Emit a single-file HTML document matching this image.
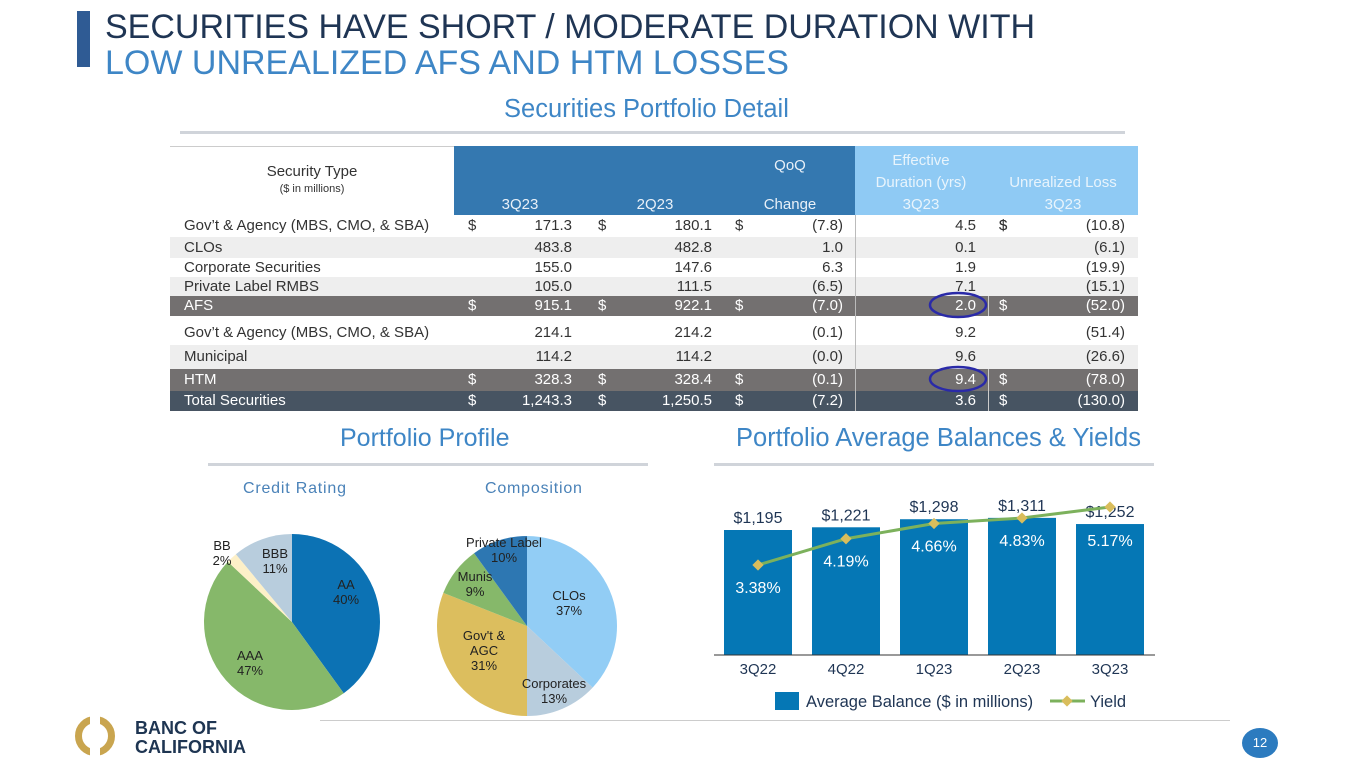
<!DOCTYPE html>
<html><head><meta charset="utf-8">
<style>
body{margin:0;width:1365px;height:768px;background:#fff;position:relative;overflow:hidden;font-family:"Liberation Sans",sans-serif;}
.a{position:absolute;white-space:nowrap;}
.r{text-align:right;}
.c{text-align:center;}
.row{position:absolute;left:170px;width:968px;font-size:15px;color:#333;}
.row .a{top:0;}
.dk{color:#fff;}
</style></head><body>
<div class="a" style="left:77px;top:11px;width:13px;height:56px;background:#2f5b94"></div>
<div class="a" style="left:105px;top:8px;font-size:34px;color:#1f3554">SECURITIES HAVE SHORT / MODERATE DURATION WITH</div>
<div class="a" style="left:105px;top:44px;font-size:34px;color:#3e86c6">LOW UNREALIZED AFS AND HTM LOSSES</div>
<div class="a" style="left:504px;top:95px;font-size:25.5px;color:#3e86c6">Securities Portfolio Detail</div>
<div class="a" style="left:180px;top:131px;width:945px;height:3px;background:#d0d4da"></div>

<div>
<div class="a" style="left:170px;top:146px;width:968px;height:1px;background:#ccc"></div>
<div class="a" style="left:454px;top:146px;width:401px;height:69px;background:#3478b0"></div>
<div class="a" style="left:855px;top:146px;width:283px;height:69px;background:#8fcaf4"></div>
<div class="a c" style="left:170px;top:163px;width:284px;font-size:15px;color:#333">Security Type</div>
<div class="a c" style="left:170px;top:183px;width:284px;font-size:11px;color:#333">($ in millions)</div>
<div class="a c" style="left:750px;top:157px;width:80px;font-size:15px;color:#e8f0f8">QoQ</div>
<div class="a c" style="left:480px;top:196px;width:80px;font-size:15px;color:#e8f0f8">3Q23</div>
<div class="a c" style="left:615px;top:196px;width:80px;font-size:15px;color:#e8f0f8">2Q23</div>
<div class="a c" style="left:750px;top:196px;width:80px;font-size:15px;color:#e8f0f8">Change</div>
<div class="a c" style="left:861px;top:152px;width:120px;font-size:15px;color:#e8f4fc">Effective</div>
<div class="a c" style="left:861px;top:174px;width:120px;font-size:15px;color:#e8f4fc">Duration (yrs)</div>
<div class="a c" style="left:861px;top:196px;width:120px;font-size:15px;color:#e8f4fc">3Q23</div>
<div class="a c" style="left:993px;top:174px;width:140px;font-size:15px;color:#e8f4fc">Unrealized Loss</div>
<div class="a c" style="left:993px;top:196px;width:140px;font-size:15px;color:#e8f4fc">3Q23</div>
<div id="rows"></div>
<div class="a" style="left:855px;top:215px;width:1px;height:196px;background:#bbb"></div>
</div>

<div class="a" style="left:340px;top:424px;font-size:25px;color:#3e86c6">Portfolio Profile</div>
<div class="a" style="left:208px;top:463px;width:440px;height:3px;background:#d0d4da"></div>
<div class="a" style="left:736px;top:424px;font-size:25.5px;color:#3e86c6">Portfolio Average Balances &amp; Yields</div>
<div class="a" style="left:714px;top:463px;width:440px;height:3px;background:#d0d4da"></div>
<div class="a" style="left:243px;top:480px;font-size:16px;letter-spacing:0.8px;color:#4a82b8">Credit Rating</div>
<div class="a" style="left:485px;top:480px;font-size:16px;letter-spacing:0.8px;color:#4a82b8">Composition</div>
<div class="a" style="left:320px;top:720px;width:910px;height:1px;background:#ccc"></div>

<svg class="a" style="left:0;top:0" width="1365" height="768" id="svg">
</svg>

<div>
<div class="a" style="left:75px;top:716px;width:40px;height:40px;border-radius:50%;border:7px solid #c9a54f;box-sizing:border-box"></div>
<div class="a" style="left:90px;top:712px;width:10px;height:48px;background:#fff"></div>
<div class="a" style="left:135px;top:719px;font-size:18px;font-weight:bold;color:#1e3552;line-height:19px">BANC OF<br>CALIFORNIA</div>
</div>
<div class="a c" style="left:1242px;top:728px;width:36px;height:30px;border-radius:50%;background:#2c7bbf;color:#fff;font-size:13px;line-height:30px">12</div>

<script>
// table data
const rowLabels=["Gov’t & Agency (MBS, CMO, & SBA)","CLOs","Corporate Securities","Private Label RMBS","AFS","Gov’t & Agency (MBS, CMO, & SBA)","Municipal","HTM","Total Securities"];
const q3=["171.3","483.8","155.0","105.0","915.1","214.1","114.2","328.3","1,243.3"];
const q2=["180.1","482.8","147.6","111.5","922.1","214.2","114.2","328.4","1,250.5"];
const chg=["(7.8)","1.0","6.3","(6.5)","(7.0)","(0.1)","(0.0)","(0.1)","(7.2)"];
const dur=["4.5","0.1","1.9","7.1","2.0","9.2","9.6","9.4","3.6"];
const loss=["(10.8)","(6.1)","(19.9)","(15.1)","(52.0)","(51.4)","(26.6)","(78.0)","(130.0)"];
const dollars=[1,0,0,0,1,0,0,1,1];
const rowTop=[215,237,258,277,296,320,345,369,391];
const rowH=[22,21,19,19,20,25,24,22,20];
const bgs=["#fff","#eee","#fff","#eee","#737070","#fff","#eee","#737070","#475462"];
const rc=document.getElementById('rows');
rowLabels.forEach((l,i)=>{
 const d=document.createElement('div');
 
 
 d.className='row'+(bgs[i].startsWith('#7')||bgs[i].startsWith('#4')?' dk':'');
 d.style.top=rowTop[i]+'px';d.style.height=rowH[i]+'px';d.style.background=bgs[i];d.style.lineHeight=rowH[i]+'px';
 let h=`<div class="a" style="left:14px">${l}</div>`;
 h+=`<div class="a r" style="left:322px;width:80px">${q3[i]}</div>`;
 h+=`<div class="a r" style="left:462px;width:80px">${q2[i]}</div>`;
 h+=`<div class="a r" style="left:593px;width:80px">${chg[i]}</div>`;
 h+=`<div class="a r" style="left:726px;width:80px">${dur[i]}</div>`;
 h+=`<div class="a r" style="left:875px;width:80px">${loss[i]}</div>`;
 if(dollars[i]) h+=`<div class="a" style="left:298px">$</div><div class="a" style="left:428px">$</div><div class="a" style="left:565px">$</div><div class="a" style="left:829px">$</div>`;
 if(i==0) h+=`<div class="a" style="left:829px">$</div>`;
 if(i==4||i==7||i==8) h+=`<div class="a" style="left:818px;top:0;width:1px;height:100%;background:#ccc"></div>`;
 d.innerHTML=h;rc.appendChild(d);
});
const S=document.getElementById('svg');const NS='http://www.w3.org/2000/svg';
function el(t,a,txt){const e=document.createElementNS(NS,t);for(const k in a)e.setAttribute(k,a[k]);if(txt!==undefined)e.textContent=txt;S.appendChild(e);return e;}
let e=el('ellipse',{cx:958,cy:305,rx:28,ry:12,fill:'none',stroke:'#2a2aa8','stroke-width':2.5});

e=el('ellipse',{cx:958,cy:379,rx:28,ry:12,fill:'none',stroke:'#2a2aa8','stroke-width':2.5});


// pies
const creditLabels=["AA","AAA","BB","BBB"];
const creditVals=[40,47,2,11];
const creditColors=["#0c72b4","#86b86a","#fdf0c8","#b8cddd"];
const compLabels=["CLOs","Corporates","Gov't & AGC","Munis","Private Label"];
const compVals=[37,13,31,9,10];
const compColors=["#92cdf5","#b8cddd","#dcbe5e","#86b86a","#2d77b2"];
function pie(cx,cy,r,vals,cols,labs,name,lp){
 const tot=vals.reduce((a,b)=>a+b,0);let a0=-Math.PI/2;
 vals.forEach((v,i)=>{const a1=a0+v/tot*2*Math.PI;
  const x0=cx+r*Math.cos(a0),y0=cy+r*Math.sin(a0),x1=cx+r*Math.cos(a1),y1=cy+r*Math.sin(a1);
  const p=el('path',{d:`M${cx},${cy}L${x0},${y0}A${r},${r} 0 ${a1-a0>Math.PI?1:0} 1 ${x1},${y1}Z`,fill:cols[i]});
  
  a0=a1;});
 vals.forEach((v,i)=>{
  const [lx,ly]=lp[i];
  const lines=labs[i]==="Gov't & AGC"?["Gov't &","AGC",v+'%']:[labs[i],v+'%'];
  lines.forEach((t,j)=>{const tx=el('text',{x:lx,y:ly+j*15,'font-size':13,'text-anchor':'middle',fill:'#222'},t);
   });
 });
}
pie(292,622,88,creditVals,creditColors,creditLabels,'credit-pie',[[346,589],[250,660],[222,550],[275,558]]);
pie(527,626,90,compVals,compColors,compLabels,'composition-pie',[[569,600],[554,688],[484,640],[475,581],[504,547]]);

// bar chart
const quarters=["3Q22","4Q22","1Q23","2Q23","3Q23"];
const balances=[1195,1221,1298,1311,1252];
const balanceLabels=["$1,195","$1,221","$1,298","$1,311","$1,252"];
const yields=[3.38,4.19,4.66,4.83,5.17];
const x0=714,band=88,bw=68,base=655;
const xC=i=>x0+band*i+band/2;
const yB=v=>base-v*0.1046;
const yY=v=>674.5-v*32.4;
quarters.forEach((q,i)=>{
 const b=el('rect',{x:xC(i)-bw/2,y:yB(balances[i]),width:bw,height:base-yB(balances[i]),fill:'#0577b5'});
 
 const t=el('text',{x:xC(i),y:yB(balances[i])-7,'font-size':16,'text-anchor':'middle',fill:'#1f3554'},balanceLabels[i]);
 
 const x=el('text',{x:xC(i),y:674,'font-size':15,'text-anchor':'middle',fill:'#1f3554'},q);
 
});
el('line',{x1:714,x2:1155,y1:base,y2:base,stroke:'#333','stroke-width':1});
const ln=el('polyline',{points:yields.map((v,i)=>xC(i)+','+yY(v)).join(' '),fill:'none',stroke:'#7cb15c','stroke-width':3});

yields.forEach((v,i)=>{
 const m=el('rect',{x:xC(i)-4,y:yY(v)-4,width:8,height:8,fill:'#d9bd5c',transform:`rotate(45 ${xC(i)} ${yY(v)})`});
 
 const t=el('text',{x:xC(i),y:Math.max(yY(v)+28,546),'font-size':16,'text-anchor':'middle',fill:'#fff'},v.toFixed(2)+'%');
 
});
let lg=el('rect',{x:775,y:692,width:24,height:18,fill:'#0577b5'});
lg=el('text',{x:806,y:707,'font-size':16.5,fill:'#1f3554'},'Average Balance ($ in millions)');
el('line',{x1:1050,x2:1085,y1:701,y2:701,stroke:'#7cb15c','stroke-width':3});
el('rect',{x:1063,y:697,width:8,height:8,fill:'#d9bd5c',transform:'rotate(45 1067 701)'});
lg=el('text',{x:1090,y:707,'font-size':16.5,fill:'#1f3554'},'Yield');
</script>
</body></html>
